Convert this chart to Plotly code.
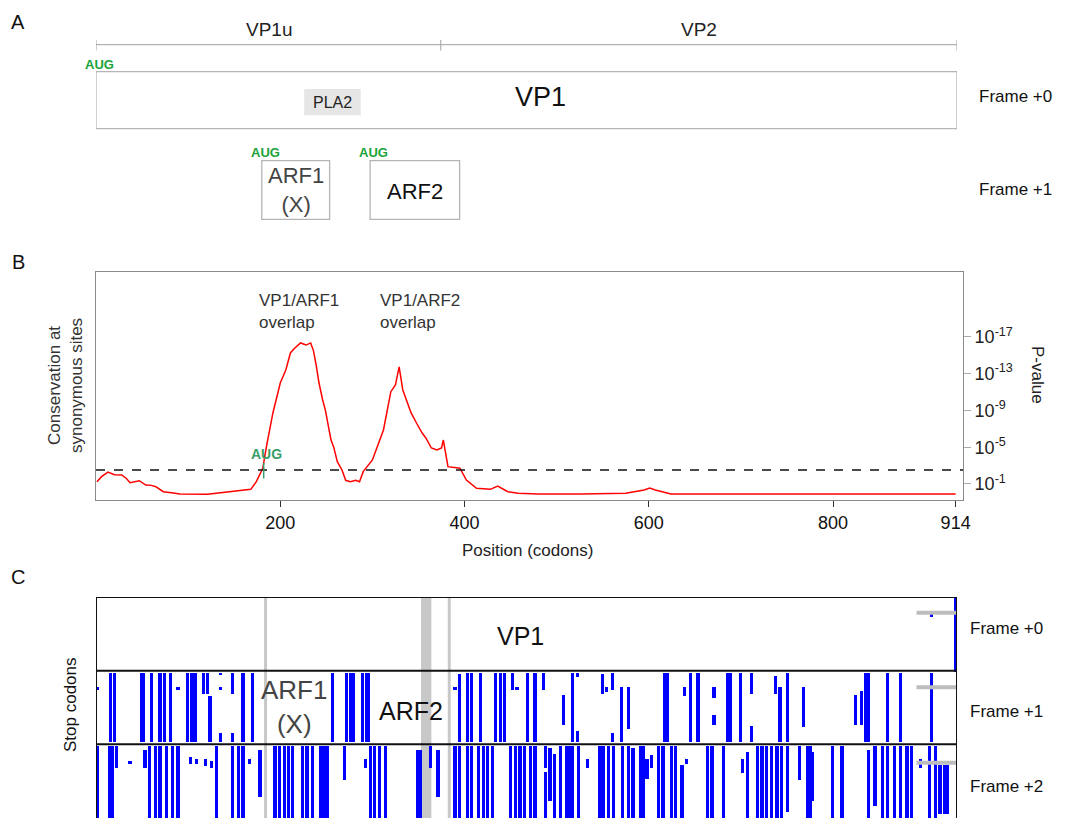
import plotly.graph_objects as go

W, H = 1068, 818
OFF = 8          # page offset in the browser
SCALE_W = 1060   # rendered width of one paper unit
FONT = "Liberation Sans, Arial, sans-serif"

# ---------------- Panel A data (codons) ----------------
region_names = ["VP1u", "VP2"]
region_bounds = [1, 366, 914]
gene_names = ["VP1", "ARF1<br>(X)", "ARF2"]
gene_starts = [1, 177, 292]
gene_ends = [914, 248, 386]
gene_frames = [0, 1, 1]
domain_name = "PLA2"
domain_start, domain_end = 221, 281

# ---------------- Panel B data ----------------
pos_codons = [1, 6, 13, 20, 28, 33, 37, 47, 54, 60, 65, 73, 82, 91, 121, 140, 158, 168, 174,
              181, 185, 192, 200, 206, 211, 215, 222, 228, 233, 236, 239, 242, 246, 249, 255,
              258, 262, 267, 271, 276, 282, 286, 290, 300, 312, 320, 325, 329, 333, 342, 348,
              354, 358, 364, 370, 375, 377, 380, 382, 395, 402, 413, 428, 436, 447, 458, 480,
              526, 575, 595, 601, 607, 624, 656, 933]
neglog_p = [1.25, 1.8, 2.30, 2.0, 1.98, 1.6, 1.14, 1.36, 0.89, 0.85, 0.71, 0.16, 0.05, -0.09,
            -0.12, 0.10, 0.24, 0.42, 1.25, 2.71, 5.05, 8.72, 11.98, 13.39, 15.24, 15.7, 16.33,
            16.1, 16.33, 15.5, 13.9, 12.0, 10.13, 9.0, 5.8, 5.0, 3.4, 2.52, 1.4, 1.25, 1.4, 1.25,
            2.34, 3.61, 6.87, 11.03, 11.76, 13.72, 11.22, 8.72, 7.6, 6.54, 6.0, 4.91, 4.7, 4.91,
            5.78, 4.0, 2.88, 2.71, 1.43, 0.53, 0.42, 0.78, 0.16, -0.01, -0.09, -0.09, -0.01, 0.35,
            0.55, 0.35, -0.09, -0.09, -0.09]
threshold = 2.52
aug_b = 182
xtick_vals = [200, 400, 600, 800, 933]
xtick_text = ["200", "400", "600", "800", "914"]
ytick_vals = [1, 5, 9, 13, 17]
ytick_text = ["10<sup>-1</sup>", "10<sup>-5</sup>", "10<sup>-9</sup>", "10<sup>-13</sup>", "10<sup>-17</sup>"]

# ---------------- Panel C data: stop codons (codon, first row, last row), 40 rows/frame -------
stops_f0 = [(912, 0, 40), (887, 9, 10)]
stops_f1 = [(1, 9, 10), (15, 1, 38), (20, 1, 38), (48, 1, 38), (50, 1, 38), (59, 1, 38),
            (68, 1, 38), (73, 1, 38), (79, 1, 38), (87, 9, 10), (97, 1, 38), (101, 1, 38),
            (105, 1, 38), (114, 1, 12), (118, 1, 12), (121, 14, 38), (132, 1, 2), (132, 9, 10),
            (132, 34, 38), (145, 1, 12), (145, 34, 38), (156, 1, 38), (166, 1, 38), (251, 1, 38),
            (266, 1, 38), (270, 1, 38), (273, 1, 38), (283, 1, 38), (287, 1, 38), (289, 1, 38),
            (381, 9, 10), (386, 2, 38), (394, 1, 38), (399, 1, 38), (408, 1, 38), (424, 1, 38),
            (429, 1, 38), (434, 1, 38), (442, 1, 10), (447, 9, 10), (458, 1, 38), (466, 1, 38),
            (475, 1, 10), (496, 13, 29), (506, 1, 38), (511, 1, 3), (511, 33, 38), (538, 2, 12),
            (542, 9, 11), (548, 1, 10), (548, 34, 38), (558, 9, 38), (565, 9, 31), (604, 1, 38),
            (607, 1, 38), (625, 9, 13), (631, 1, 38), (639, 1, 38), (656, 9, 14), (656, 24, 29),
            (670, 1, 38), (673, 1, 38), (684, 1, 38), (696, 1, 12), (696, 30, 38), (721, 3, 12),
            (726, 9, 38), (734, 1, 38), (751, 9, 30), (806, 13, 29), (813, 11, 29), (817, 1, 38),
            (820, 1, 38), (840, 1, 38), (854, 1, 38), (887, 1, 38)]
stops_f2 = [(2, 1, 40), (14, 1, 40), (17, 1, 40), (22, 1, 12), (36, 9, 10), (52, 3, 12),
            (57, 1, 40), (63, 1, 40), (68, 1, 40), (75, 1, 40), (81, 1, 40), (87, 1, 40),
            (100, 7, 10), (107, 8, 10), (116, 8, 11), (123, 9, 12), (128, 1, 40), (145, 1, 40),
            (151, 1, 40), (156, 1, 40), (163, 8, 10), (174, 3, 28), (190, 1, 40), (195, 1, 40),
            (200, 1, 40), (204, 1, 40), (209, 1, 40), (219, 1, 40), (224, 1, 40), (230, 1, 40),
            (238, 1, 40), (242, 1, 40), (246, 1, 40), (264, 1, 19), (286, 8, 12), (291, 1, 40),
            (296, 1, 40), (301, 1, 40), (307, 1, 40), (341, 3, 40), (344, 3, 40), (355, 1, 12),
            (363, 3, 28), (381, 1, 40), (386, 1, 40), (394, 1, 40), (399, 1, 40), (406, 1, 40),
            (411, 1, 40), (416, 1, 40), (421, 1, 40), (440, 1, 40), (445, 1, 40), (450, 1, 40),
            (455, 1, 40), (461, 1, 40), (466, 1, 40), (477, 1, 12), (477, 15, 40), (482, 2, 30),
            (487, 5, 40), (493, 1, 40), (500, 1, 40), (503, 1, 40), (506, 1, 40), (512, 1, 40),
            (522, 8, 12), (535, 1, 40), (539, 1, 40), (544, 1, 40), (549, 1, 40), (559, 1, 40),
            (565, 1, 40), (570, 2, 40), (578, 1, 40), (581, 1, 40), (585, 8, 18), (590, 6, 12),
            (597, 1, 40), (602, 1, 40), (611, 1, 40), (615, 1, 40), (622, 11, 40), (627, 8, 10),
            (649, 1, 40), (654, 1, 40), (666, 1, 40), (686, 8, 15), (692, 4, 40), (702, 1, 40),
            (707, 1, 40), (712, 1, 40), (717, 1, 40), (723, 1, 40), (728, 1, 40), (734, 1, 36),
            (747, 1, 19), (755, 1, 40), (758, 1, 40), (761, 4, 30), (782, 1, 40), (792, 1, 40),
            (820, 3, 40), (827, 1, 33), (835, 1, 40), (840, 1, 40), (848, 1, 40), (854, 1, 40),
            (861, 1, 40), (866, 1, 40), (875, 8, 12), (885, 1, 40), (891, 1, 40), (896, 11, 37),
            (901, 11, 37), (904, 11, 37)]
aug_lines_c = [180, 375]
aug_band_c = (345, 356)
end_marks_rows = [8.5, 49, 90]
frame_labels = ["Frame +0", "Frame +1", "Frame +2"]


def px(x):
    return (x - OFF) / SCALE_W


def py(y):
    return 1 - (y - OFF) / H


fig = go.Figure()

# ---- Panel B curve ----
fig.add_trace(go.Scatter(x=pos_codons, y=neglog_p, mode="lines",
                         line=dict(color="#ff0000", width=1.5), xaxis="x", yaxis="y",
                         showlegend=False, hoverinfo="skip"))
fig.add_trace(go.Scatter(x=[pos_codons[0]], y=[neglog_p[0]], mode="markers", opacity=0,
                         xaxis="x", yaxis="y2", showlegend=False, hoverinfo="skip"))

# ---- Panel C stop codons ----
for k, stops in enumerate([stops_f0, stops_f1, stops_f2]):
    off = 40 * k
    fig.add_trace(go.Bar(x=[s[0] for s in stops], base=[s[1] + off for s in stops],
                         y=[s[2] - s[1] + 0.6 for s in stops], width=3.4,
                         marker=dict(color="#0000ff", line=dict(width=0)),
                         xaxis="x3", yaxis="y4", showlegend=False, hoverinfo="skip"))

shapes = []
ann = []


def text(x, y, t, size=17, color="#111", xref="paper", yref="paper", xanchor="center",
         yanchor="middle", **kw):
    if xref == "paper":
        x = px(x)
    if yref == "paper":
        y = py(y)
    ann.append(dict(xref=xref, yref=yref, x=x, y=y, text=t, showarrow=False, xanchor=xanchor,
                    yanchor=yanchor, font=dict(size=size, color=color, family=FONT), **kw))


# ---- Panel A ----
shapes.append(dict(type="line", xref="x2", yref="y3", x0=0, x1=region_bounds[-1],
                   y0=38, y1=38, line=dict(color="#a0a0a0", width=1)))
for b in region_bounds:
    bb = b if b > 1 else 0
    shapes.append(dict(type="line", xref="x2", yref="y3", x0=bb, x1=bb,
                       y0=33, y1=44, line=dict(color="#a0a0a0", width=1)))
for i, nm in enumerate(region_names):
    cx = (region_bounds[i] + region_bounds[i + 1]) / 2
    text(cx, 22, nm, size=19, color="#222", xref="x2", yref="y3")

row_y = {0: (66, 125), 1: (158, 219)}
for nm, s, e, f in zip(gene_names, gene_starts, gene_ends, gene_frames):
    y0, y1 = row_y[f]
    shapes.append(dict(type="rect", xref="x2", yref="y3", x0=s - 1, x1=e, y0=y0, y1=y1,
                       line=dict(color="#b5b5b5", width=1.3), fillcolor="white", layer="below"))
    text(s - 1 + 4, y0 - 8, "<b>AUG</b>", size=13, color="#1aa33a", xref="x2", yref="y3")
shapes.append(dict(type="rect", xref="x2", yref="y3", x0=domain_start, x1=domain_end, y0=84, y1=111,
                   line=dict(width=0), fillcolor="#e6e6e6"))
text((domain_start + domain_end) / 2, 98, domain_name, size=16, color="#222", xref="x2", yref="y3")
text(540, 97, "VP1", size=27)
text((gene_starts[1] + gene_ends[1]) / 2 - 0.5, 188, gene_names[1], size=22, color="#444",
     xref="x2", yref="y3")
text((gene_starts[2] + gene_ends[2]) / 2 - 0.5, 190, gene_names[2], size=22, xref="x2", yref="y3")
text(977, 96, "Frame +0", xanchor="left")
text(977, 190, "Frame +1", xanchor="left")

# ---- Panel B extras ----
shapes.append(dict(type="line", xref="x", yref="y", x0=0, x1=941, y0=threshold, y1=threshold,
                   line=dict(color="#111", width=1.5, dash="dash")))
shapes.append(dict(type="line", xref="x", yref="y", x0=aug_b, x1=aug_b, y0=1.6, y1=3.3,
                   line=dict(color="#3a9e6a", width=1.5)))
text(aug_b + 3, 3.2, "<b>AUG</b>", size=14, color="#3a9e6a", xref="x", yref="y", yanchor="bottom")
text(257, 311, "VP1/ARF1<br>overlap", color="#333", xanchor="left", align="left")
text(378, 311, "VP1/ARF2<br>overlap", color="#333", xanchor="left", align="left")
text(66, 386, "Conservation at<br>synonymous sites", color="#333", textangle=-90)
text(1037, 375, "P-value", color="#222", textangle=90)
text(527, 550, "Position (codons)", color="#222")

# ---- Panel C extras ----
for a in aug_lines_c:
    shapes.append(dict(type="line", xref="x3", yref="y4", x0=a, x1=a, y0=0, y1=130,
                       line=dict(color="#c8c8c8", width=3), layer="below"))
shapes.append(dict(type="rect", xref="x3", yref="y4", x0=aug_band_c[0], x1=aug_band_c[1], y0=0,
                   y1=130, line=dict(width=0), fillcolor="#c8c8c8", layer="below"))
for r in end_marks_rows:
    shapes.append(dict(type="line", xref="x3", yref="y4", x0=871, x1=914, y0=r, y1=r,
                       line=dict(color="#bdbdbd", width=4)))
for yv in [0, 40, 80]:
    shapes.append(dict(type="line", xref="x3", yref="y4", x0=0, x1=914, y0=yv, y1=yv,
                       line=dict(color="#111", width=2)))
for xv in [0, 914]:
    shapes.append(dict(type="line", xref="x3", yref="y4", x0=xv, x1=xv, y0=0, y1=130,
                       line=dict(color="#111", width=2)))
text(520, 636, "VP1", size=25)
text(294, 707, "ARF1<br>(X)", size=26, color="#444")
text(411, 711, "ARF2", size=25)
for lab, yy in zip(frame_labels, [628, 711, 786]):
    text(968, yy, lab, xanchor="left")
text(70, 705, "Stop codons", textangle=-90)

# panel letters
for L, yy in zip(["A", "B", "C"], [22, 262, 577]):
    text(18, yy, L, size=20)

c_rows_total = 120 * (818 - 597 + OFF) / (818 - 597)

fig.update_layout(
    width=W, height=H, margin=dict(l=0, r=0, t=0, b=0),
    paper_bgcolor="white", plot_bgcolor="rgba(0,0,0,0)",
    font=dict(family=FONT), barmode="overlay", bargap=0,
    shapes=shapes, annotations=ann,
    xaxis=dict(domain=[px(96), px(963)], range=[0, 941], anchor="y", tickvals=xtick_vals,
               ticktext=xtick_text, ticks="outside", ticklen=6, tickcolor="#333",
               showline=True, mirror=True, linecolor="#8a8a8a", linewidth=1, showgrid=False,
               zeroline=False, tickfont=dict(size=18, color="#111")),
    yaxis=dict(domain=[py(500), py(272)], range=[-0.74, 24.04], anchor="x", showticklabels=False,
               ticks="", showline=True, mirror=True, linecolor="#8a8a8a", linewidth=1,
               showgrid=False, zeroline=False),
    yaxis2=dict(overlaying="y", side="right", anchor="x", range=[-0.74, 24.04], tickvals=ytick_vals,
                ticktext=ytick_text, ticks="outside", ticklen=7, tickcolor="#aaa", showline=False,
                showgrid=False, zeroline=False, tickfont=dict(size=18, color="#222")),
    xaxis2=dict(domain=[px(96), px(957)], range=[0, 914], anchor="y3", visible=False),
    yaxis3=dict(domain=[py(232), 1], range=[232, 0], anchor="x2", visible=False),
    xaxis3=dict(domain=[px(96), px(957)], range=[0, 914], anchor="y4", visible=False),
    yaxis4=dict(domain=[0, py(597)], range=[c_rows_total, 0], anchor="x3", visible=False),
)

fig.write_html("out.html")
